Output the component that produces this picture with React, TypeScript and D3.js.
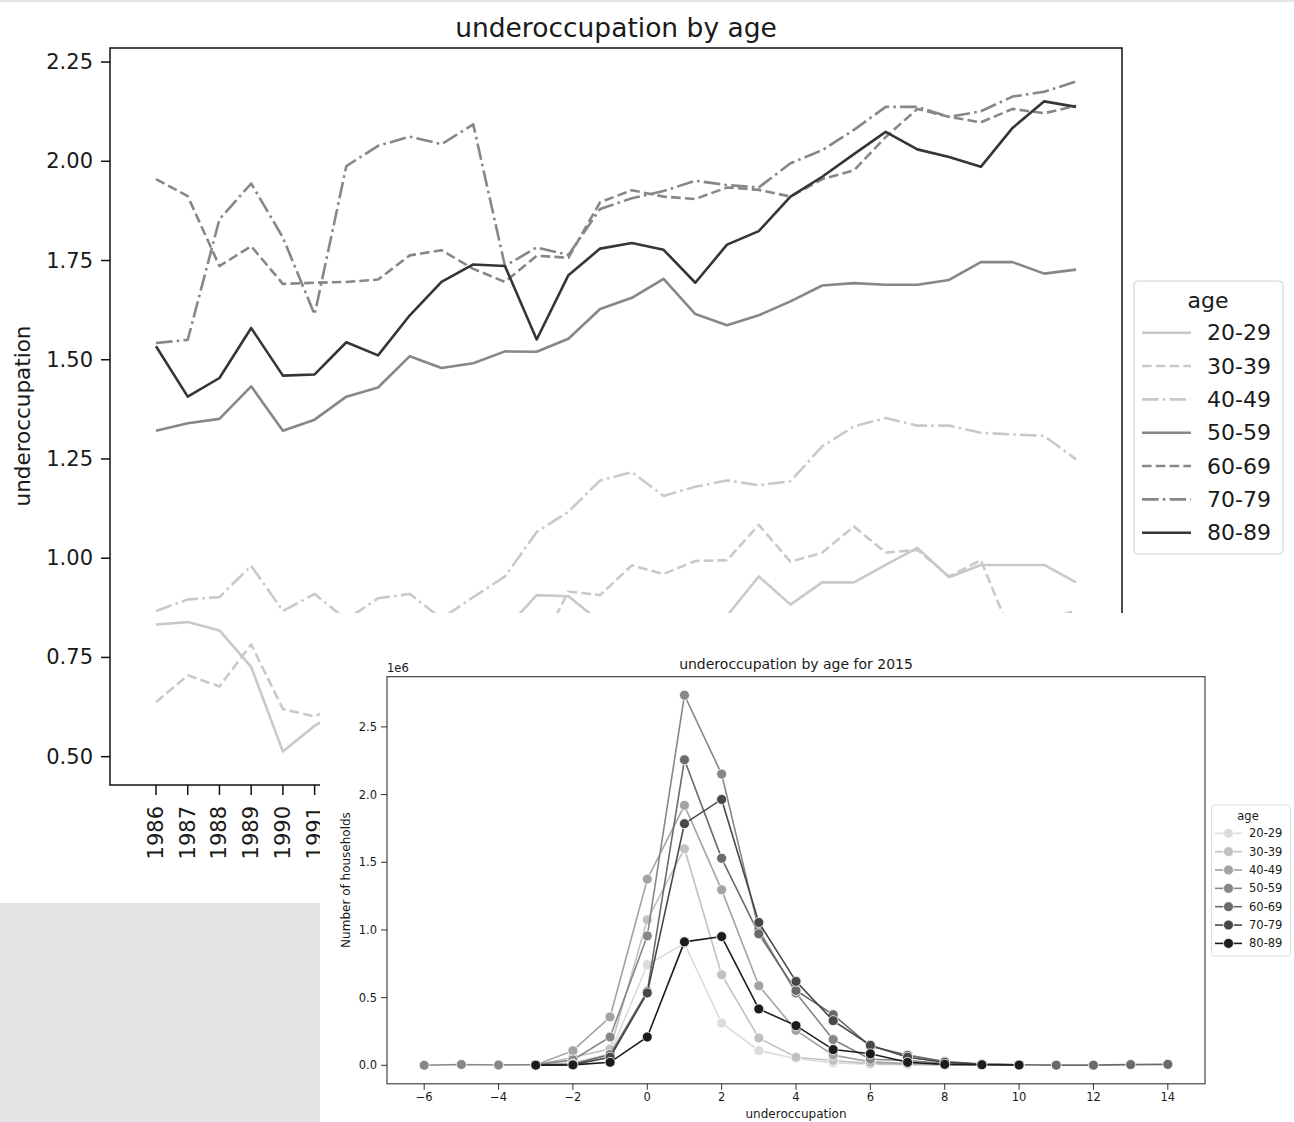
import * as d3 from 'd3';
import { useEffect, useRef } from 'react';

// ---------- data: underoccupation by age (top chart) ----------
const years = [1986, 1987, 1988, 1989, 1990, 1991, 1992, 1993, 1994, 1995, 1996, 1997, 1998, 1999, 2000,
    2001, 2002, 2003, 2004, 2005, 2006, 2007, 2008, 2009, 2010, 2011, 2012, 2013, 2014, 2015];
const ageGroups = ['20-29', '30-39', '40-49', '50-59', '60-69', '70-79', '80-89'];

const occ2029 = [0.833, 0.839, 0.818, 0.726, 0.513, 0.578, 0.62, 0.66, 0.70, 0.74, 0.79, 0.82, 0.907, 0.904, 0.84,
    0.80, 0.82, 0.84, 0.855, 0.954, 0.883, 0.939, 0.939, 0.983, 1.026, 0.952, 0.983, 0.983, 0.983, 0.939];
const occ3039 = [0.637, 0.705, 0.677, 0.783, 0.620, 0.601, 0.64, 0.70, 0.74, 0.77, 0.80, 0.82, 0.76, 0.916, 0.907,
    0.982, 0.960, 0.993, 0.995, 1.084, 0.991, 1.014, 1.080, 1.014, 1.021, 0.954, 0.995, 0.80, 0.845, 0.868];
const occ4049 = [0.867, 0.896, 0.902, 0.981, 0.867, 0.910, 0.845, 0.899, 0.910, 0.848, 0.902, 0.954, 1.066, 1.117, 1.196,
    1.217, 1.157, 1.180, 1.196, 1.184, 1.194, 1.282, 1.332, 1.353, 1.334, 1.334, 1.316, 1.312, 1.308, 1.249];
const occ5059 = [1.321, 1.340, 1.351, 1.433, 1.321, 1.349, 1.407, 1.430, 1.509, 1.479, 1.491, 1.521, 1.520, 1.553, 1.628,
    1.656, 1.704, 1.615, 1.587, 1.612, 1.647, 1.687, 1.693, 1.689, 1.689, 1.701, 1.746, 1.746, 1.717, 1.727];
const occ6069 = [1.955, 1.912, 1.736, 1.786, 1.691, 1.694, 1.696, 1.702, 1.763, 1.776, 1.729, 1.696, 1.762, 1.757, 1.897,
    1.927, 1.911, 1.905, 1.934, 1.928, 1.911, 1.955, 1.977, 2.061, 2.132, 2.112, 2.098, 2.132, 2.121, 2.140];
const occ7079 = [1.542, 1.550, 1.854, 1.944, 1.808, 1.614, 1.988, 2.039, 2.062, 2.043, 2.093, 1.736, 1.783, 1.764, 1.880,
    1.907, 1.925, 1.951, 1.940, 1.934, 1.995, 2.028, 2.079, 2.137, 2.137, 2.112, 2.126, 2.163, 2.175, 2.201];
const occ8089 = [1.534, 1.407, 1.454, 1.580, 1.460, 1.463, 1.544, 1.511, 1.612, 1.696, 1.740, 1.736, 1.551, 1.713, 1.780,
    1.794, 1.777, 1.694, 1.790, 1.824, 1.911, 1.961, 2.018, 2.074, 2.030, 2.011, 1.986, 2.084, 2.151, 2.137];
const occTicks = [0.5, 0.75, 1.0, 1.25, 1.5, 1.75, 2.0, 2.25];

// ---------- data: households for 2015 (bottom chart), in 1e6 ----------
const levels = [-6, -5, -4, -3, -2, -1, 0, 1, 2, 3, 4, 5, 6, 7, 8, 9, 10, 11, 12, 13, 14];
const hh2029 = [null, null, null, 0.001, 0.02, 0.085, 0.742, 0.90, 0.313, 0.108, 0.05, 0.018, 0.008, 0.004, 0.002,
    null, null, null, null, null, null];
const hh3039 = [null, null, null, 0.002, 0.06, 0.12, 1.075, 1.60, 0.669, 0.202, 0.06, 0.035, 0.012, 0.006, 0.003,
    0.002, null, null, null, null, null];
const hh4049 = [null, null, null, 0.003, 0.108, 0.357, 1.375, 1.92, 1.296, 0.588, 0.258, 0.075, 0.025, 0.012, 0.006,
    0.003, null, null, null, null, null];
const hh5059 = [0.0, 0.006, 0.002, 0.005, 0.04, 0.209, 0.956, 2.734, 2.151, 1.0, 0.534, 0.19, 0.045, 0.035, 0.015,
    0.006, 0.003, null, null, null, null];
const hh6069 = [null, null, null, 0.003, 0.01, 0.079, 0.545, 2.257, 1.529, 0.971, 0.553, 0.374, 0.14, 0.075, 0.028,
    0.01, 0.004, 0.001, 0.001, 0.005, 0.007];
const hh7079 = [null, null, null, 0.002, 0.005, 0.06, 0.534, 1.785, 1.964, 1.055, 0.62, 0.33, 0.148, 0.06, 0.022,
    0.008, 0.003, null, null, null, null];
const hh8089 = [null, null, null, 0.001, 0.003, 0.022, 0.209, 0.912, 0.951, 0.416, 0.293, 0.116, 0.085, 0.022, 0.007,
    0.004, 0.002, null, null, null, null];
const hhTicks = [0, 0.5, 1.0, 1.5, 2.0, 2.5];
const levelTicks = [-6, -4, -2, 0, 2, 4, 6, 8, 10, 12, 14];

const occSeries = [occ2029, occ3039, occ4049, occ5059, occ6069, occ7079, occ8089];
const hhSeries = [hh2029, hh3039, hh4049, hh5059, hh6069, hh7079, hh8089];

const FONT = 'DejaVu Sans, sans-serif';
const TEXT = '#1a1a1a';

function App() {
    const svgRef = useRef<SVGSVGElement>(null);

    useEffect(() => {
        const svg = d3.select(svgRef.current);
        svg.selectAll('*').remove();

        // light line at the very top
        svg.append('rect').attr('x', 0).attr('y', 0).attr('width', 1294).attr('height', 2).attr('fill', '#e4e4e4');

        // ================= top chart =================
        const x1 = d3.scaleLinear().domain([1986 - 1.45, 2015 + 1.45]).range([110, 1122]);
        const [lo, hi] = d3.extent(occSeries.flat()) as [number, number];
        const pad = (hi - lo) * 0.05;
        const y1 = d3.scaleLinear().domain([lo - pad, hi + pad]).range([785, 48]);

        const shade = ['#c9c9c9', '#c9c9c9', '#c9c9c9', '#878787', '#878787', '#878787', '#353535'];
        const dashes = [null, '9.6,4.2', '16.6,4.2,2.6,4.2'];

        const line1 = d3.line<number>()
            .x((d, i) => x1(years[i]))
            .y(d => y1(d));

        occSeries.forEach((s, k) => {
            svg.append('path')
                .datum(s)
                .attr('d', line1)
                .attr('fill', 'none')
                .attr('stroke', shade[k])
                .attr('stroke-width', 2.6)
                .attr('stroke-linejoin', 'round')
                .attr('stroke-dasharray', dashes[k % 3]);
        });

        // 框
        svg.append('rect')
            .attr('x', 110).attr('y', 48).attr('width', 1012).attr('height', 737)
            .attr('fill', 'none').attr('stroke', '#111').attr('stroke-width', 1.5);

        // y轴刻度
        occTicks.forEach(t => {
            svg.append('line')
                .attr('x1', 101).attr('x2', 110).attr('y1', y1(t)).attr('y2', y1(t))
                .attr('stroke', '#111').attr('stroke-width', 1.5);
            svg.append('text')
                .attr('x', 93).attr('y', y1(t))
                .attr('text-anchor', 'end').attr('dominant-baseline', 'central')
                .attr('font-family', FONT).attr('font-size', 21).attr('fill', TEXT)
                .text(d3.format('.2f')(t));
        });

        // x轴刻度 (旋转)
        years.forEach(yr => {
            svg.append('line')
                .attr('x1', x1(yr)).attr('x2', x1(yr)).attr('y1', 785).attr('y2', 795)
                .attr('stroke', '#111').attr('stroke-width', 1.5);
            svg.append('text')
                .attr('transform', `translate(${x1(yr)},806) rotate(-90)`)
                .attr('text-anchor', 'end').attr('dominant-baseline', 'central')
                .attr('font-family', FONT).attr('font-size', 21).attr('fill', TEXT)
                .text(String(yr));
        });

        svg.append('text')
            .attr('transform', 'translate(22,416) rotate(-90)')
            .attr('text-anchor', 'middle').attr('dominant-baseline', 'central')
            .attr('font-family', FONT).attr('font-size', 21.5).attr('fill', TEXT)
            .text('underoccupation');

        svg.append('text')
            .attr('x', 616).attr('y', 27)
            .attr('text-anchor', 'middle').attr('dominant-baseline', 'central')
            .attr('font-family', FONT).attr('font-size', 26.5).attr('fill', TEXT)
            .text('underoccupation by age');

        // 图例
        const lg = svg.append('g');
        lg.append('rect')
            .attr('x', 1134).attr('y', 281).attr('width', 149).attr('height', 273).attr('rx', 4)
            .attr('fill', '#fff').attr('stroke', '#d0d0d0').attr('stroke-width', 1);
        lg.append('text')
            .attr('x', 1208).attr('y', 300)
            .attr('text-anchor', 'middle').attr('dominant-baseline', 'central')
            .attr('font-family', FONT).attr('font-size', 22).attr('fill', TEXT)
            .text('age');
        ageGroups.forEach((g, k) => {
            const yy = 332.7 + k * 33.33;
            lg.append('line')
                .attr('x1', 1142).attr('x2', 1191).attr('y1', yy).attr('y2', yy)
                .attr('stroke', shade[k]).attr('stroke-width', 2.6)
                .attr('stroke-dasharray', dashes[k % 3]);
            lg.append('text')
                .attr('x', 1207).attr('y', yy)
                .attr('dominant-baseline', 'central')
                .attr('font-family', FONT).attr('font-size', 22).attr('fill', TEXT)
                .text(g);
        });

        // ================= covering panels =================
        svg.append('rect').attr('x', 0).attr('y', 903).attr('width', 320).attr('height', 219).attr('fill', '#e3e3e3');
        svg.append('rect').attr('x', 320).attr('y', 613).attr('width', 974).attr('height', 509).attr('fill', '#fff');

        // ================= bottom chart =================
        const x2 = d3.scaleLinear().domain([-7, 15]).range([387, 1205]);
        const hmax = d3.max(hhSeries.flat().filter(v => v != null) as number[]) as number;
        const y2 = d3.scaleLinear().domain([-hmax * 0.05, hmax * 1.05]).range([1083.8, 676.7]);

        const greys = ['#dcdcdc', '#c1c1c1', '#a3a3a3', '#878787', '#6a6a6a', '#474747', '#1c1c1c'];

        const line2 = d3.line<number | null>()
            .defined(d => d != null)
            .x((d, i) => x2(levels[i]))
            .y(d => y2(d as number));

        hhSeries.forEach((s, k) => {
            const g = svg.append('g');
            g.append('path')
                .datum(s)
                .attr('d', line2)
                .attr('fill', 'none')
                .attr('stroke', greys[k])
                .attr('stroke-width', 1.6);
            g.selectAll('circle')
                .data(s.map((v, i) => ({ v, lv: levels[i] })).filter(d => d.v != null))
                .join('circle')
                .attr('cx', d => x2(d.lv))
                .attr('cy', d => y2(d.v as number))
                .attr('r', 5)
                .attr('fill', greys[k])
                .attr('stroke', '#fff')
                .attr('stroke-width', 0.8);
        });

        svg.append('rect')
            .attr('x', 387).attr('y', 676.7).attr('width', 818).attr('height', 407.1)
            .attr('fill', 'none').attr('stroke', '#333').attr('stroke-width', 1.1);

        hhTicks.forEach(t => {
            svg.append('line')
                .attr('x1', 381).attr('x2', 387).attr('y1', y2(t)).attr('y2', y2(t))
                .attr('stroke', '#333');
            svg.append('text')
                .attr('x', 377).attr('y', y2(t))
                .attr('text-anchor', 'end').attr('dominant-baseline', 'central')
                .attr('font-family', FONT).attr('font-size', 11.5).attr('fill', TEXT)
                .text(d3.format('.1f')(t));
        });
        levelTicks.forEach(t => {
            svg.append('line')
                .attr('x1', x2(t)).attr('x2', x2(t)).attr('y1', 1083.8).attr('y2', 1089.8)
                .attr('stroke', '#333');
            svg.append('text')
                .attr('x', x2(t)).attr('y', 1097)
                .attr('text-anchor', 'middle').attr('dominant-baseline', 'central')
                .attr('font-family', FONT).attr('font-size', 11.5).attr('fill', TEXT)
                .text(d3.format('d')(t));
        });

        svg.append('text')
            .attr('x', 387).attr('y', 668)
            .attr('dominant-baseline', 'central')
            .attr('font-family', FONT).attr('font-size', 11.5).attr('fill', TEXT)
            .text('1e6');
        svg.append('text')
            .attr('x', 796).attr('y', 664)
            .attr('text-anchor', 'middle').attr('dominant-baseline', 'central')
            .attr('font-family', FONT).attr('font-size', 14).attr('fill', TEXT)
            .text('underoccupation by age for 2015');
        svg.append('text')
            .attr('x', 796).attr('y', 1114)
            .attr('text-anchor', 'middle').attr('dominant-baseline', 'central')
            .attr('font-family', FONT).attr('font-size', 12).attr('fill', TEXT)
            .text('underoccupation');
        svg.append('text')
            .attr('transform', 'translate(346,880) rotate(-90)')
            .attr('text-anchor', 'middle').attr('dominant-baseline', 'central')
            .attr('font-family', FONT).attr('font-size', 12).attr('fill', TEXT)
            .text('Number of households');

        // 图例
        const lg2 = svg.append('g');
        lg2.append('rect')
            .attr('x', 1211.5).attr('y', 805).attr('width', 79).attr('height', 151).attr('rx', 3)
            .attr('fill', '#fff').attr('stroke', '#dcdcdc');
        lg2.append('text')
            .attr('x', 1248).attr('y', 815.5)
            .attr('text-anchor', 'middle').attr('dominant-baseline', 'central')
            .attr('font-family', FONT).attr('font-size', 11.5).attr('fill', TEXT)
            .text('age');
        ageGroups.forEach((g, k) => {
            const yy = 833.3 + k * 18.35;
            lg2.append('line')
                .attr('x1', 1215).attr('x2', 1242).attr('y1', yy).attr('y2', yy)
                .attr('stroke', greys[k]).attr('stroke-width', 1.6);
            lg2.append('circle')
                .attr('cx', 1228.5).attr('cy', yy).attr('r', 5)
                .attr('fill', greys[k]).attr('stroke', '#fff').attr('stroke-width', 0.8);
            lg2.append('text')
                .attr('x', 1249).attr('y', yy)
                .attr('dominant-baseline', 'central')
                .attr('font-family', FONT).attr('font-size', 11.5).attr('fill', TEXT)
                .text(g);
        });
    }, []);

    return (
        <svg
            ref={svgRef}
            width={1294}
            height={1122}
            style={{ position: 'absolute', left: 0, top: 0, background: '#fff' }}
        />
    );
}

export default App;
